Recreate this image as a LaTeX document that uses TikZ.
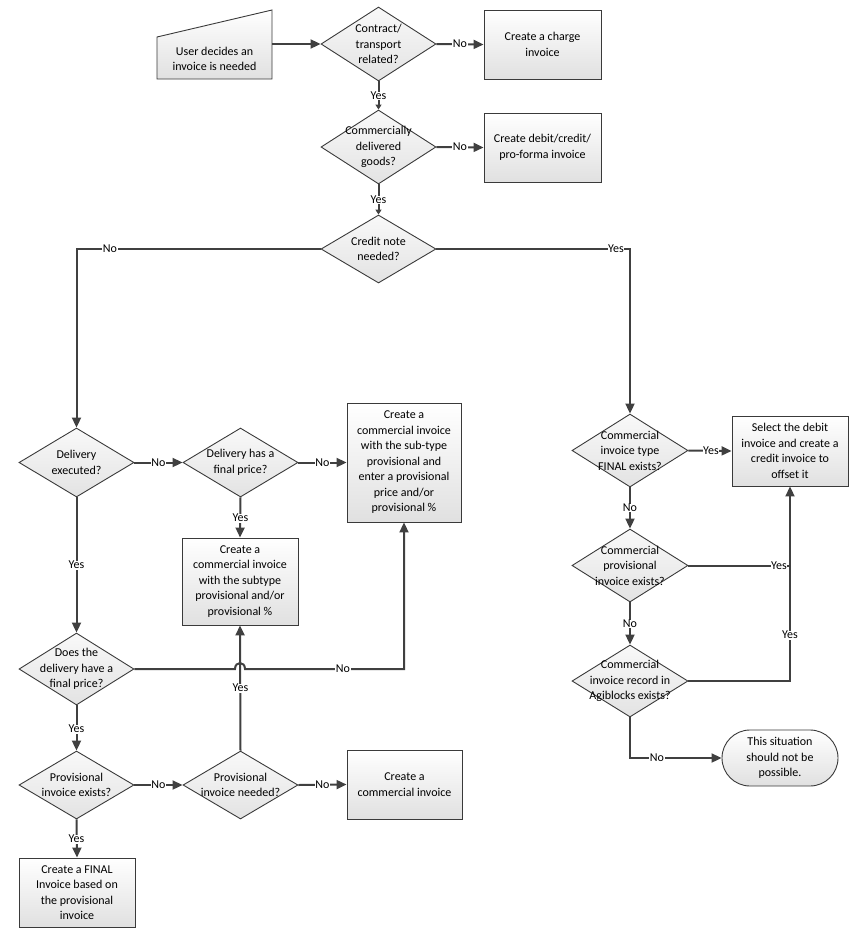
\documentclass[tikz,border=0pt]{standalone}
\usepackage{fontspec}
\setmainfont{Carlito}
\usetikzlibrary{shapes.geometric,arrows.meta}
\definecolor{lc}{HTML}{404040}
\definecolor{bc}{HTML}{3A3A3A}
\begin{document}
\begin{tikzpicture}[x=1pt,y=-1pt,
  font=\fontsize{12}{15.5}\selectfont,
  line/.style={draw=lc, line width=2pt},
  arr/.style={line, -{Triangle[length=10pt,width=9pt]}},
  sarr/.style={line, -{Triangle[length=5pt,width=6pt]}},
  box/.style={rectangle, draw=bc, line width=0.9pt, top color=white, bottom color=gray!24,
    align=center, inner sep=0pt},
  dec/.style={diamond, draw=bc, line width=0.9pt, top color=gray!5, bottom color=gray!22,
    inner sep=0pt, minimum width=115pt},
  txt/.style={align=center, inner sep=0pt},
  lab/.style={fill=white, inner sep=0.6pt}]
\useasboundingbox (0,0) rectangle (863,935);

% start (manual input)
\draw[draw=bc, line width=0.9pt, top color=white, bottom color=gray!24]
  (157,79) -- (272,79) -- (272,10) -- (157,37) -- cycle;
\node[txt] (start) at (214.5,59) {User decides an\\invoice is needed};
\coordinate (startout) at (272,44);

% decisions
\node[dec, minimum height=74pt] (d1) at (378.5,44) {};
\node[dec, minimum height=74pt] (d2) at (378.5,147) {};
\node[dec, minimum height=68pt] (d3) at (378.5,249) {};
\node[dec, minimum height=69pt] (d4) at (76.5,462.5) {};
\node[dec, minimum height=69pt] (d5) at (240.5,462.5) {};
\node[dec, minimum height=72pt] (d6) at (76.5,669) {};
\node[dec, minimum height=68pt] (d7) at (76.5,785) {};
\node[dec, minimum height=68pt] (d8) at (240.5,785) {};
\node[dec, minimum height=73pt, minimum width=116pt] (d9) at (630,450.5) {};
\node[dec, minimum height=73pt, minimum width=116pt] (d10) at (630,565.5) {};
\node[dec, minimum height=72pt, minimum width=116pt] (d11) at (630,681) {};

\node[txt] (d1t) at (d1) {Contract/\\transport\\related?};
\node[txt] (d2t) at (d2) {Commercially\\delivered\\goods?};
\node[txt] (d3t) at (d3) {Credit note\\needed?};
\node[txt] (d4t) at (d4) {Delivery\\executed?};
\node[txt] (d5t) at (d5) {Delivery has a\\final price?};
\node[txt] (d6t) at (d6) {Does the\\delivery have a\\final price?};
\node[txt] (d7t) at (d7) {Provisional\\invoice exists?};
\node[txt] (d8t) at (d8) {Provisional\\invoice needed?};
\node[txt] (d9t) at (d9) {Commercial\\invoice type\\FINAL exists?};
\node[txt] (d10t) at (d10) {Commercial\\provisional\\invoice exists?};
\node[txt] (d11t) at (d11) {Commercial\\invoice record in\\Agiblocks exists?};

% boxes
\node[box, minimum width=117pt, minimum height=69pt] (b1) at (542.5,44.5) {Create a charge\\invoice};
\node[box, minimum width=117pt, minimum height=69pt] (b2) at (542.5,147.5) {Create debit/credit/\\pro-forma invoice};
\node[box, minimum width=114pt, minimum height=119pt] (b3) at (404,462.5)
  {Create a\\commercial invoice\\with the sub-type\\provisional and\\enter a provisional\\price and/or\\provisional \%};
\node[box, minimum width=116pt, minimum height=87pt] (b4) at (240,581.5)
  {Create a\\commercial invoice\\with the subtype\\provisional and/or\\provisional \%};
\node[box, minimum width=115pt, minimum height=69pt] (b5) at (404.5,784.5) {Create a\\commercial invoice};
\node[box, minimum width=116pt, minimum height=69pt] (b6) at (77,892.5)
  {Create a FINAL\\Invoice based on\\the provisional\\invoice};
\node[box, minimum width=116pt, minimum height=70pt] (bR) at (790,451)
  {Select the debit\\invoice and create a\\credit invoice to\\offset it};
\node[box, rounded corners=28pt, minimum width=116pt, minimum height=56pt] (term) at (780,758)
  {This situation\\should not be\\possible.};

% connectors
\draw[arr] (startout) -- (d1.west);
\draw[arr] (d1.east) -- (b1.west);
\draw[sarr] (d1.south) -- (d2.north);
\draw[arr] (d2.east) -- (b2.west);
\draw[sarr] (d2.south) -- (d3.north);
\draw[arr] (d3.west) -- (76.5,249) -- (d4.north);
\draw[arr] (d3.east) -- (630,249) -- (d9.north);
\draw[arr] (d4.east) -- (d5.west);
\draw[arr] (d5.east) -- (b3.west);
\draw[arr] (d5.south) -- (b4.north);
\draw[arr] (d4.south) -- (d6.north);
\draw[arr] (d8.north) -- (b4.south);
\draw[arr] (d6.east) -- (235,669) .. controls (235,661) and (245,661) .. (245,669) -- (404,669) -- (b3.south);
\draw[arr] (d6.south) -- (d7.north);
\draw[arr] (d7.east) -- (d8.west);
\draw[arr] (d8.east) -- (b5.west);
\draw[arr] (d7.south) -- (b6.north);
\draw[arr] (d9.east) -- (bR.west);
\draw[arr] (d9.south) -- (d10.north);
\draw[arr] (d10.south) -- (d11.north);
\draw[line] (d10.east) -- (790,565.5);
\draw[arr] (d11.east) -- (790,681) -- (bR.south);
\draw[arr] (d11.south) -- (630,758) -- (term.west);

% labels
\node[lab] (l1) at (460,44) {No};
\node[lab] (l2) at (378.5,96) {Yes};
\node[lab] (l3) at (460,147) {No};
\node[lab] (l4) at (378.5,200) {Yes};
\node[lab] (l5) at (110,249) {No};
\node[lab] (l6) at (616,249) {Yes};
\node[lab] (l7) at (158.5,462.5) {No};
\node[lab] (l8) at (322.5,462.5) {No};
\node[lab] (l9) at (240.5,518) {Yes};
\node[lab] (l10) at (76.5,565) {Yes};
\node[lab] (l11) at (343,669) {No};
\node[lab] (l12) at (240.5,688) {Yes};
\node[lab] (l13) at (76.5,729) {Yes};
\node[lab] (l14) at (158.5,785) {No};
\node[lab] (l15) at (322.5,785) {No};
\node[lab] (l16) at (76.5,839) {Yes};
\node[lab] (l17) at (711,451) {Yes};
\node[lab] (l18) at (630,508) {No};
\node[lab] (l19) at (779,565.5) {Yes};
\node[lab] (l20) at (630,624) {No};
\node[lab] (l21) at (790,635) {Yes};
\node[lab] (l22) at (657,758) {No};
\end{tikzpicture}
\end{document}
